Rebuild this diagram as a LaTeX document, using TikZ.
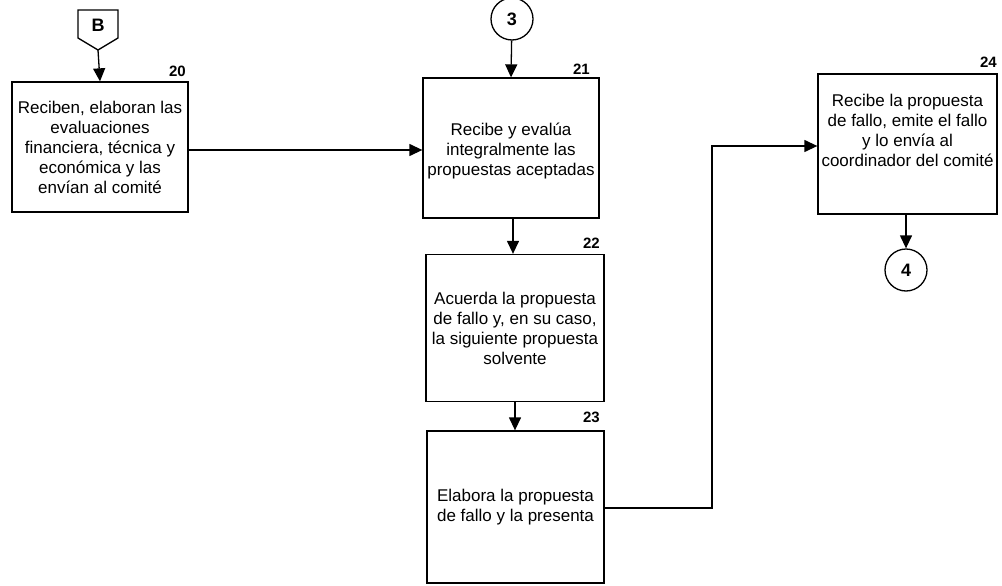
\documentclass[tikz,border=0pt]{standalone}
\usepackage{fontspec}
\setmainfont{Liberation Sans}
\usetikzlibrary{arrows.meta,positioning}
\begin{document}
\begin{tikzpicture}[x=1pt,y=-1pt,
  box/.style={draw,line width=1.3pt,inner sep=0pt,align=center,font=\fontsize{17}{20}\selectfont},
  num/.style={font=\bfseries\fontsize{15}{15}\selectfont,anchor=south east,inner sep=0pt},
  conn/.style={draw,circle,line width=1.3pt,minimum size=42pt,inner sep=0pt,font=\bfseries\fontsize{18}{18}\selectfont},
  arr/.style={line width=1.3pt,-{Triangle[length=13pt,width=12pt]}},
  ln/.style={line width=1.3pt}]
\useasboundingbox (0,0) rectangle (1002,586);
% offpage connector B
\draw[ln] (78,10) -- (118,10) -- (118,38) -- (98,50) -- (78,38) -- cycle;
\node[font=\bfseries\fontsize{18}{18}\selectfont] (B) at (98,25) {B};
\coordinate (Btip) at (98,50);
% boxes
\node[box,minimum width=176pt,minimum height=130pt] (b20) at (100,147)
  {Reciben, elaboran las\\evaluaciones\\financiera, técnica y\\económica y las\\envían al comité};
\node[box,minimum width=176pt,minimum height=140pt] (b21) at (511,148)
  {\\[-2pt]Recibe y evalúa\\integralmente las\\propuestas aceptadas};
\node[box,minimum width=178pt,minimum height=147pt] (b22) at (515,328)
  {Acuerda la propuesta\\de fallo y, en su caso,\\la siguiente propuesta\\solvente};
\node[box,minimum width=177pt,minimum height=152pt] (b23) at (515.5,507)
  {Elabora la propuesta\\de fallo y la presenta};
\node[box,minimum width=179pt,minimum height=140pt] (b24) at (907.5,144)
  {Recibe la propuesta\\de fallo, emite el fallo\\y lo envía al\\coordinador del comité\\[8pt]};
% numbers
\node[num] (n20) at (186,77) {20};
\node[num] (n21) at (590,75) {21};
\node[num] (n22) at (600,249) {22};
\node[num] (n23) at (600,423) {23};
\node[num] (n24) at (997,68) {24};
% circles
\node[conn] (c3) at (512,19) {3};
\node[conn] (c4) at (906,270) {4};
% connectors
\draw[arr] (Btip) -- (b20.north);
\draw[arr] (c3) -- (b21.north);
\draw[arr] (b20.east |- 0,150) -- (b21.west |- 0,150);
\draw[arr] (b21.south -| 513,0) -- (b22.north -| 513,0);
\draw[arr] (b22.south -| 515,0) -- (b23.north -| 515,0);
\draw[arr] (b23.east |- 0,508) -- (712,508) -- (712,146) -- (b24.west |- 0,146);
\draw[arr] (b24.south -| c4) -- (c4.north);
\end{tikzpicture}
\end{document}
